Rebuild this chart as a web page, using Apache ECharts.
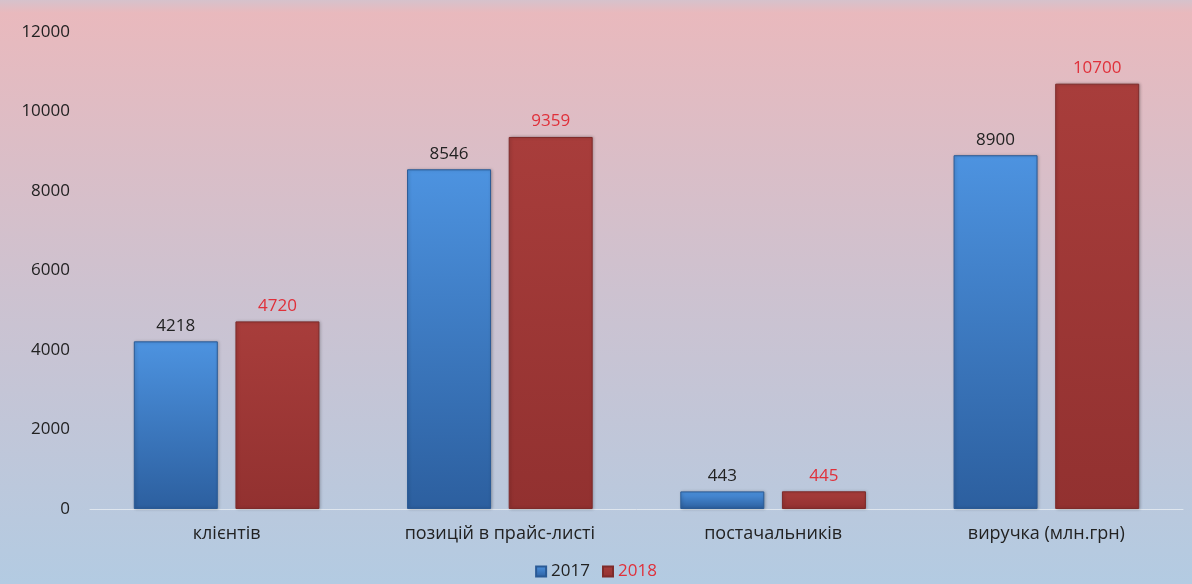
<!DOCTYPE html>
<html><head><meta charset="utf-8">
<script src="https://cdn.jsdelivr.net/npm/echarts@6/dist/echarts.min.js"></script>
<style>html,body{margin:0;padding:0;}#c{width:1192px;height:584px;}</style>
</head><body><div id="c"></div>
<script>
const categories = ['клієнтів', 'позицій в прайс-листі', 'постачальників', 'виручка (млн.грн)'];
const values2017 = [4218, 8546, 443, 8900];
const values2018 = [4720, 9359, 445, 10700];
const seriesNames = ['2017', '2018'];
const yTicks = { min: 0, max: 12000, interval: 2000 };

const chart = echarts.init(document.getElementById('c'));
const font = "'Open Sans', sans-serif";
const blueGrad = new echarts.graphic.LinearGradient(0, 0, 0, 1, [
  { offset: 0, color: '#4d93e0' }, { offset: 1, color: '#2c5f9f' }]);
const redGrad = new echarts.graphic.LinearGradient(0, 0, 0, 1, [
  { offset: 0, color: '#a83d3b' }, { offset: 1, color: '#923130' }]);
chart.setOption({
  backgroundColor: new echarts.graphic.LinearGradient(0, 0, 0, 1, [
    { offset: 0, color: '#d6c2cc' }, { offset: 0.022, color: '#e9b9bd' },
    { offset: 0.5, color: '#cdc2d0' }, { offset: 1, color: '#b3cbe2' }]),
  textStyle: { fontFamily: font },
  grid: { left: 90, right: 9, top: 32, bottom: 75 },
  legend: {
    bottom: -1, left: 'center', itemWidth: 10, itemHeight: 10, itemGap: 12,
    textStyle: { fontSize: 17, fontFamily: font },
    data: [
      { name: '2017', icon: 'rect', textStyle: { color: '#222' } },
      { name: '2018', icon: 'rect', textStyle: { color: '#e0303a' } }
    ]
  },
  xAxis: {
    type: 'category', data: categories,
    axisLine: { lineStyle: { color: '#dfe6ee', width: 1 } },
    axisTick: { show: false },
    axisLabel: { fontSize: 18, color: '#222', margin: 16, fontFamily: font }
  },
  yAxis: {
    type: 'value', min: yTicks.min, max: yTicks.max, interval: yTicks.interval,
    splitLine: { show: false },
    axisLine: { show: false }, axisTick: { show: false },
    axisLabel: { fontSize: 17, color: '#222', margin: 20, fontFamily: font,
      formatter: v => String(v) }
  },
  series: [
    { name: seriesNames[0], type: 'bar', data: values2017, barWidth: 84, barGap: '21%',
      itemStyle: { color: blueGrad, borderColor: '#2a5a95', borderWidth: 1, shadowColor: 'rgba(0,0,0,0.25)', shadowBlur: 3, shadowOffsetX: 1 },
      label: { show: true, position: 'top', distance: 7, fontSize: 17, color: '#222', fontFamily: font } },
    { name: seriesNames[1], type: 'bar', data: values2018, barWidth: 84,
      itemStyle: { color: redGrad, borderColor: '#7e2b2a', borderWidth: 1, shadowColor: 'rgba(0,0,0,0.25)', shadowBlur: 3, shadowOffsetX: 1 },
      label: { show: true, position: 'top', distance: 7, fontSize: 17, color: '#e0303a', fontFamily: font } }
  ]
});
</script></body></html>
